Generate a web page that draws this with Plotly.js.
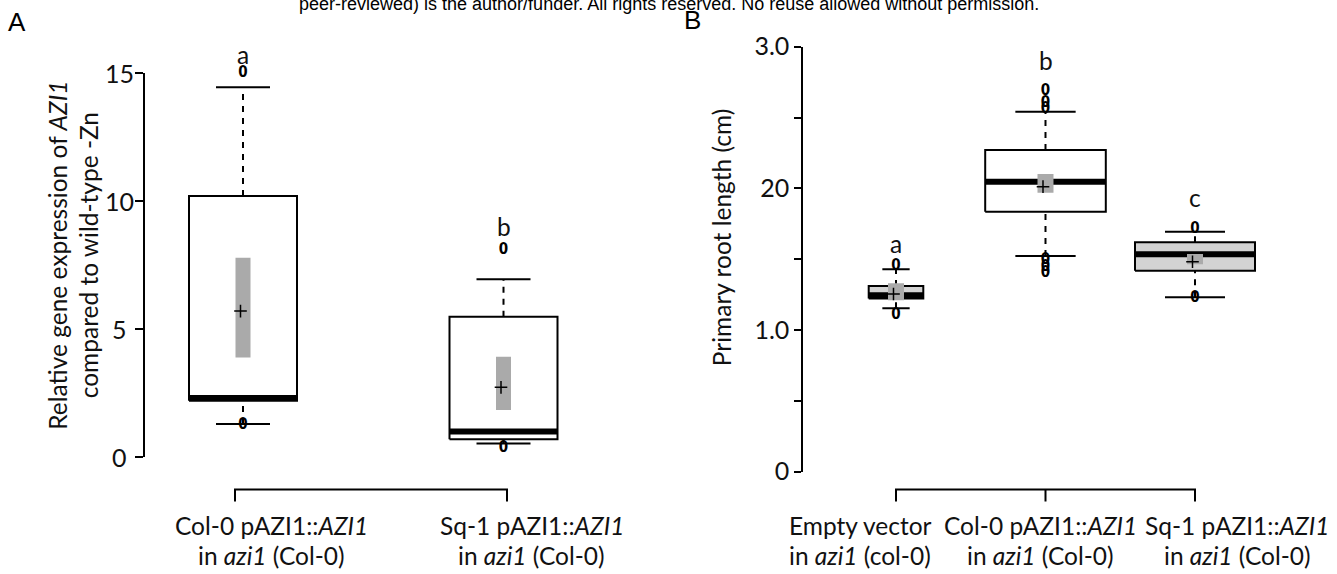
<!DOCTYPE html>
<html>
<head>
<meta charset="utf-8">
<script src="https://cdn.plot.ly/plotly-3.0.1.min.js"></script>
<style>html,body{margin:0;padding:0;background:#fff;}</style>
</head>
<body>
<div id="chart" style="width:1337px;height:574px;"></div>
<script>
// ================= DATA : panel A =================
const catsA      = ['Col-0 pAZI1::<i>AZI1</i>', 'Sq-1 pAZI1::<i>AZI1</i>'];
const catsA2     = ['in <i>azi1</i> (Col-0)', 'in <i>azi1</i> (Col-0)'];
const lettersA   = ['a', 'b'];
const lowA       = [1.29, 0.53];
const q1A        = [2.20, 0.69];
const medA       = [2.30, 1.00];
const q3A        = [10.20, 5.48];
const highA      = [14.44, 6.94];
const meanA      = [5.70, 2.72];
const ciLoA      = [3.89, 1.84];
const ciHiA      = [7.78, 3.92];
const outA       = [[15.0, 1.25], [8.06, 0.36]];
const yTicksA    = [0, 5, 10, 15];
const yTickTextA = ['0', '5', '10', '15'];

// ================= DATA : panel B =================
const catsB      = ['Empty vector', 'Col-0 pAZI1::<i>AZI1</i>', 'Sq-1 pAZI1::<i>AZI1</i>'];
const catsB2     = ['in <i>azi1</i> (col-0)', 'in <i>azi1</i> (Col-0)', 'in <i>azi1</i> (Col-0)'];
const lettersB   = ['a', 'b', 'c'];
const lowB       = [1.153, 1.523, 1.231];
const q1B        = [1.222, 1.835, 1.419];
const medB       = [1.245, 2.047, 1.535];
const q3B        = [1.311, 2.271, 1.619];
const highB      = [1.429, 2.541, 1.694];
const meanB      = [1.254, 2.012, 1.482];
const ciLoB      = [1.210, 1.969, 1.464];
const ciHiB      = [1.330, 2.101, 1.537];
const outB       = [[1.45, 1.105], [2.682, 2.60, 2.555, 1.49, 1.445, 1.40], [1.71, 1.225]];
const yTicksB    = [0, 0.5, 1, 1.5, 2, 2.5, 3];
const yTickTextB = ['0', '', '1.0', '', '20', '', '3.0'];

// ================= LAYOUT / STYLE =================
const W = 1337, H = 574;
const FONT = 'Lato, "Open Sans", sans-serif';
const TXT = '#111';
const LBL = 24.5;   // label / title font size

// pixel frames of the panels
const PA = { left: 145, right: 640, top: 73, bottom: 457, c1: 243, c2: 503.5, b1: 235, b2: 507,
             yr: [0, 15], boxHalf: [54, 54], ciHalf: 7.5,
             fill: ['#ffffff', '#ffffff'], letterY: [15.71, 9.0],
             labelShift: [28, 28], ticklen: 8 };
const PB = { left: 803.3, right: 1330, top: 46.7, bottom: 471.7, c1: 896, c2: 1045.5, b1: 896, b2: 1045.5,
             yr: [0, 3], boxHalf: [27.3, 60.3, 60], ciHalf: 8,
             fill: ['#d3d3d3', '#ffffff', '#d3d3d3'], letterY: [1.614, 2.906, 1.937],
             labelShift: [-36, -5, 42], ticklen: 7 };

function rangeFor(P, p1, p2) {
  const s = p2 - p1;
  return [1 - (p1 - P.left) / s, 1 + (P.right - p1) / s];
}
PA.s = PA.c2 - PA.c1; PB.s = PB.c2 - PB.c1;
const xrA = rangeFor(PA, PA.c1, PA.c2), xrB = rangeFor(PB, PB.c1, PB.c2);
const brA = rangeFor(PA, PA.b1, PA.b2), brB = rangeFor(PB, PB.b1, PB.b2);
function paperY(P, v) {   // value on the panel's y axis -> paper fraction
  return (1 - P.bottom / H) + (v - P.yr[0]) / (P.yr[1] - P.yr[0]) * ((P.bottom - P.top) / H);
}

function panelTraces(d, P, xa, ya) {
  const n = d.med.length, tr = [];
  const base = { type: 'scatter', xaxis: xa, yaxis: ya, hoverinfo: 'skip', showlegend: false };
  for (let i = 0; i < n; i++) {
    const c = i + 1, w = P.boxHalf[i] / P.s;
    tr.push(Object.assign({}, base, {
      mode: 'lines', x: [c - w, c + w, c + w, c - w, c - w],
      y: [d.q1[i], d.q1[i], d.q3[i], d.q3[i], d.q1[i]],
      fill: 'toself', fillcolor: P.fill[i], line: { color: '#000', width: 2 }
    }));
  }
  const wx = [], wy = [], cx = [], cy = [], mx = [], my = [], rx = [], ry = [];
  for (let i = 0; i < n; i++) {
    const c = i + 1, w = P.boxHalf[i] / P.s, cw = w / 2, rw = P.ciHalf / P.s;
    wx.push(c, c, null, c, c, null);
    wy.push(d.q3[i], d.high[i], null, d.low[i], d.q1[i], null);
    cx.push(c - cw, c + cw, null, c - cw, c + cw, null);
    cy.push(d.high[i], d.high[i], null, d.low[i], d.low[i], null);
    mx.push(c - w, c + w, null);
    my.push(d.med[i], d.med[i], null);
    rx.push(c - rw, c + rw, c + rw, c - rw, c - rw, null);
    ry.push(d.ciLo[i], d.ciLo[i], d.ciHi[i], d.ciHi[i], d.ciLo[i], null);
  }
  tr.push(Object.assign({}, base, { mode: 'lines', x: wx, y: wy, line: { color: '#000', width: 2, dash: '6px,6px' } }));
  tr.push(Object.assign({}, base, { mode: 'lines', x: cx, y: cy, line: { color: '#000', width: 2 } }));
  tr.push(Object.assign({}, base, { mode: 'lines', x: mx, y: my, line: { color: '#000', width: 6 } }));
  tr.push(Object.assign({}, base, { mode: 'lines', x: rx, y: ry, fill: 'toself', fillcolor: '#aaaaaa', line: { width: 0, color: 'rgba(0,0,0,0)' } }));
  tr.push(Object.assign({}, base, {
    mode: 'markers', x: d.mean.map((v, i) => i + 1 - 2.5 / P.s), y: d.mean,
    marker: { symbol: 'cross-thin', size: 9, color: '#000', line: { color: '#000', width: 1.5 } }
  }));
  const ox = [], oy = [];
  d.out.forEach((arr, i) => arr.forEach(v => { ox.push(i + 1); oy.push(v); }));
  tr.push(Object.assign({}, base, {
    mode: 'text', x: ox, y: oy, text: ox.map(() => '0'), textposition: 'middle center',
    cliponaxis: false,
    textfont: { family: '"DejaVu Sans Condensed", "DejaVu Sans", sans-serif', size: 15, weight: 700, color: '#000' }
  }));
  return tr;
}

function bracket(n, xa, ya) {
  const top = 0.683, bot = 0.283, x = [], y = [];
  x.push(1, 1, n, n); y.push(bot, top, top, bot);
  for (let i = 2; i < n; i++) { x.push(null, i, i); y.push(null, top, bot); }
  return { type: 'scatter', mode: 'lines', xaxis: xa, yaxis: ya, x, y, hoverinfo: 'skip', showlegend: false,
           line: { color: '#000', width: 2 } };
}

const dA = { low: lowA, q1: q1A, med: medA, q3: q3A, high: highA, mean: meanA, ciLo: ciLoA, ciHi: ciHiA, out: outA };
const dB = { low: lowB, q1: q1B, med: medB, q3: q3B, high: highB, mean: meanB, ciLo: ciLoB, ciHi: ciHiB, out: outB };

const traces = [].concat(
  panelTraces(dA, PA, 'x', 'y'),
  panelTraces(dB, PB, 'x2', 'y2'),
  [bracket(catsA.length, 'x3', 'y3'), bracket(catsB.length, 'x4', 'y4')]
);

function yAxis(P, ticks, text, anchor, showLabels) {
  return {
    domain: [1 - P.bottom / H, 1 - P.top / H], range: P.yr, anchor: anchor,
    showline: true, linecolor: '#000', linewidth: 2, ticks: 'outside', ticklen: P.ticklen,
    tickwidth: 2, tickcolor: '#000', tickvals: ticks, ticktext: text, showticklabels: showLabels,
    showgrid: false, zeroline: false, tickfont: { family: FONT, size: 25, color: TXT }
  };
}
function hidden(domain, range, anchor) {
  return { domain, range, anchor, visible: false, showgrid: false, zeroline: false };
}
const stripDom = [1 - 510 / H, 1 - 480 / H];

const ann = [];
function txt(o) {
  ann.push(Object.assign({ showarrow: false, xanchor: 'center', yanchor: 'middle',
                           font: { family: FONT, size: LBL, color: TXT } }, o));
}

// panel A tick labels (centred under each other, as in the original)
yTicksA.forEach((v, i) => txt({ xref: 'paper', yref: 'paper', x: 119.5 / W, y: paperY(PA, v),
                                text: yTickTextA[i], font: { family: FONT, size: 25, color: TXT } }));
// significance letters
lettersA.forEach((t, i) => txt({ xref: 'x', yref: 'paper', x: i + 1, y: paperY(PA, PA.letterY[i]), text: t }));
lettersB.forEach((t, i) => txt({ xref: 'x2', yref: 'paper', x: i + 1, y: paperY(PB, PB.letterY[i]), text: t }));
// category labels
catsA.forEach((t, i) => {
  txt({ xref: 'x', yref: 'paper', x: i + 1, xshift: PA.labelShift[i], y: 1 - 525 / H, text: t });
  txt({ xref: 'x', yref: 'paper', x: i + 1, xshift: PA.labelShift[i], y: 1 - 555 / H, text: catsA2[i] });
});
catsB.forEach((t, i) => {
  txt({ xref: 'x2', yref: 'paper', x: i + 1, xshift: PB.labelShift[i], y: 1 - 525 / H, text: t });
  txt({ xref: 'x2', yref: 'paper', x: i + 1, xshift: PB.labelShift[i], y: 1 - 555 / H, text: catsB2[i] });
});
// axis titles
txt({ xref: 'paper', yref: 'paper', x: 56.7 / W, y: 1 - 255 / H, textangle: -90,
      text: 'Relative gene expression of <i>AZI1</i>' });
txt({ xref: 'paper', yref: 'paper', x: 88.3 / W, y: 1 - 255 / H, textangle: -90,
      text: 'compared to wild-type -Zn' });
txt({ xref: 'paper', yref: 'paper', x: 721.7 / W, y: 1 - 237.5 / H, textangle: -90,
      text: 'Primary root length (cm)' });
// panel letters + watermark
txt({ xref: 'paper', yref: 'paper', x: 6 / W, y: 1 - 5 / H, xanchor: 'left', yanchor: 'top', text: 'A',
      font: { family: '"Liberation Sans", Arial, sans-serif', size: 26, color: '#000' } });
txt({ xref: 'paper', yref: 'paper', x: 682 / W, y: 1 - 3 / H, xanchor: 'left', yanchor: 'top', text: 'B',
      font: { family: '"Liberation Sans", Arial, sans-serif', size: 26, color: '#000' } });
txt({ xref: 'paper', yref: 'paper', x: 669 / W, y: 1 + 8.3 / H, xanchor: 'center', yanchor: 'top',
      text: 'peer-reviewed) is the author/funder. All rights reserved. No reuse allowed without permission.',
      font: { family: '"Liberation Sans", Arial, sans-serif', size: 18, color: '#000' } });

const layout = {
  width: W, height: H, margin: { l: 0, r: 0, t: 0, b: 0 },
  paper_bgcolor: '#fff', plot_bgcolor: 'rgba(0,0,0,0)', showlegend: false,
  xaxis:  hidden([PA.left / W, PA.right / W], xrA, 'y'),
  yaxis:  yAxis(PA, yTicksA, yTickTextA, 'x', false),
  xaxis2: hidden([PB.left / W, PB.right / W], xrB, 'y2'),
  yaxis2: yAxis(PB, yTicksB, yTickTextB, 'x2', true),
  xaxis3: hidden([PA.left / W, PA.right / W], brA, 'y3'),
  yaxis3: hidden(stripDom, [0, 1], 'x3'),
  xaxis4: hidden([PB.left / W, PB.right / W], brB, 'y4'),
  yaxis4: hidden(stripDom, [0, 1], 'x4'),
  annotations: ann
};

Plotly.newPlot('chart', traces, layout, { displayModeBar: false, staticPlot: true });
</script>
</body>
</html>
